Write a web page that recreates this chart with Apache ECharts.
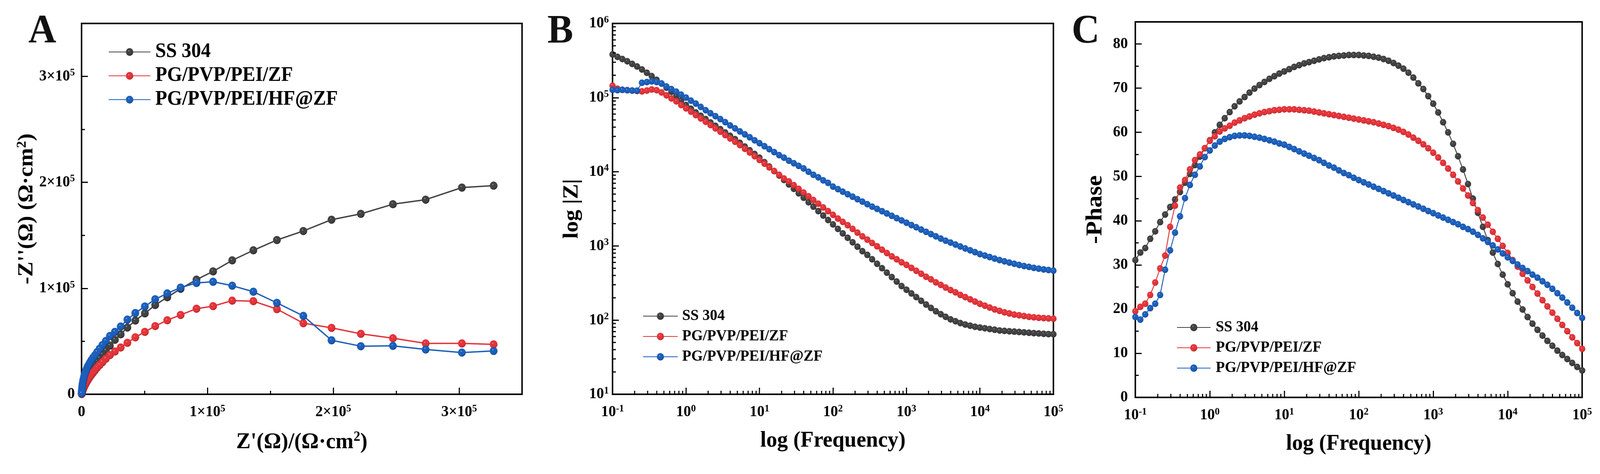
<!DOCTYPE html>
<html>
<head>
<meta charset="utf-8">
<title>EIS</title>
<script src="https://cdn.jsdelivr.net/npm/echarts@6.0.0/dist/echarts.min.js"></script>
<style>
  html, body { margin: 0; padding: 0; background: #fff; overflow: hidden; }
  #chart { width: 4297px; height: 1213px; transform-origin: 0 0; }
</style>
</head>
<body>
<div id="chart"></div>
<script>
const FONT = 'Liberation Serif';
const names = ['SS 304', 'PG/PVP/PEI/ZF', 'PG/PVP/PEI/HF@ZF'];
const colors = ['#424242', '#e3343a', '#1c5fbb'];
const darks = ['#1e1e1e', '#9e1a1e', '#0c3878'];

// A: Nyquist, Z' shared by the three samples (ohm.cm2)
const zReal = [327400, 302200, 273400, 247400, 221900, 198600, 176200, 155200, 136500, 119700,
  104500, 91300, 78700, 68100, 58500, 50300, 42700, 36400, 31100, 26500,
  22500, 19300, 16600, 14300, 12300, 10600, 9100, 7800, 6700, 5700,
  4900, 4200, 3600, 3100, 2600, 2200, 1900, 1600, 1300, 1100,
  900, 750, 600, 500, 400, 300, 230, 170, 120, 80];
const zImagSS = [196900, 195100, 183700, 179400, 170300, 164800, 154100, 145600, 135900, 126400,
  116000, 108200, 99600, 91600, 84200, 76400, 69600, 63000, 56600, 51400,
  45900, 41300, 37500, 34000, 30800, 28100, 25600, 23200, 21200, 19300,
  17600, 16000, 14600, 13300, 12100, 11000, 9900, 8900, 7900, 7000,
  6100, 5300, 4500, 3800, 3100, 2500, 1900, 1400, 1000, 600];
const zImagZF = [47100, 48000, 48000, 52900, 57100, 62700, 67100, 80400, 87900, 88400,
  83200, 80800, 74900, 69900, 64400, 58900, 53800, 48600, 44200, 40400,
  37000, 33500, 30300, 27500, 25000, 22500, 20300, 18300, 16500, 14800,
  13300, 11900, 10700, 9600, 8500, 7500, 6600, 5800, 5000, 4300,
  3600, 3000, 2500, 2000, 1600, 1200, 900, 600, 400, 200];
const zImagHF = [40900, 39400, 42300, 45700, 45400, 51000, 74000, 86300, 96800, 102500,
  106200, 105100, 100700, 95200, 89700, 82900, 76700, 70500, 64000, 58900,
  55000, 50300, 46500, 43000, 39800, 36800, 34500, 32200, 30000, 28000,
  26200, 24400, 22600, 21000, 19300, 17700, 16200, 14700, 13200, 11800,
  10400, 9000, 7700, 6500, 5300, 4200, 3200, 2300, 1500, 800];

// B, C: Bode, log10 of frequency (Hz)
const logFreq = [-1.000, -0.933, -0.867, -0.800, -0.733, -0.667, -0.600, -0.533, -0.467, -0.400, -0.333, -0.267, -0.200, -0.133, -0.067,
  0.000, 0.067, 0.133, 0.200, 0.267, 0.333, 0.400, 0.467, 0.533, 0.600, 0.667, 0.733, 0.800, 0.867, 0.933,
  1.000, 1.067, 1.133, 1.200, 1.267, 1.333, 1.400, 1.467, 1.533, 1.600, 1.667, 1.733, 1.800, 1.867, 1.933,
  2.000, 2.067, 2.133, 2.200, 2.267, 2.333, 2.400, 2.467, 2.533, 2.600, 2.667, 2.733, 2.800, 2.867, 2.933,
  3.000, 3.067, 3.133, 3.200, 3.267, 3.333, 3.400, 3.467, 3.533, 3.600, 3.667, 3.733, 3.800, 3.867, 3.933,
  4.000, 4.067, 4.133, 4.200, 4.267, 4.333, 4.400, 4.467, 4.533, 4.600, 4.667, 4.733, 4.800, 4.867, 4.933,
  5.000];

// log10 |Z|
const logZSS = [5.583, 5.55, 5.52, 5.49, 5.455, 5.42, 5.38, 5.335, 5.29, 5.24, 5.19, 5.135, 5.08, 5.02, 4.96,
  4.90, 4.85, 4.80, 4.755, 4.71, 4.665, 4.62, 4.575, 4.53, 4.485, 4.44, 4.39, 4.34, 4.29, 4.24,
  4.19, 4.13, 4.07, 4.01, 3.95, 3.89, 3.83, 3.77, 3.71, 3.65, 3.59, 3.53, 3.47, 3.41, 3.35,
  3.29, 3.23, 3.17, 3.11, 3.05, 2.99, 2.93, 2.88, 2.82, 2.76, 2.70, 2.64, 2.58, 2.52, 2.46,
  2.41, 2.36, 2.31, 2.26, 2.21, 2.165, 2.12, 2.08, 2.045, 2.01, 1.985, 1.96, 1.94, 1.925, 1.91,
  1.90, 1.89, 1.88, 1.87, 1.86, 1.855, 1.85, 1.845, 1.84, 1.835, 1.83, 1.825, 1.82, 1.815, 1.812,
  1.81];
const logZZF = [5.16, 5.12, 5.105, 5.10, 5.095, 5.09, 5.085, 5.095, 5.11, 5.10, 5.07, 5.03, 4.99, 4.95, 4.90,
  4.855, 4.81, 4.765, 4.72, 4.675, 4.63, 4.585, 4.54, 4.495, 4.45, 4.405, 4.36, 4.31, 4.26, 4.21,
  4.16, 4.11, 4.06, 4.01, 3.96, 3.91, 3.87, 3.82, 3.77, 3.72, 3.67, 3.62, 3.57, 3.52, 3.47,
  3.42, 3.37, 3.325, 3.28, 3.23, 3.18, 3.13, 3.085, 3.04, 2.995, 2.95, 2.905, 2.86, 2.82, 2.78,
  2.745, 2.705, 2.665, 2.625, 2.585, 2.55, 2.51, 2.475, 2.44, 2.405, 2.375, 2.34, 2.31, 2.28, 2.25,
  2.22, 2.195, 2.17, 2.145, 2.125, 2.105, 2.09, 2.075, 2.065, 2.055, 2.045, 2.038, 2.032, 2.027, 2.023,
  2.02];
const logZHF = [5.104, 5.10, 5.105, 5.10, 5.095, 5.094, 5.20, 5.21, 5.219, 5.21, 5.19, 5.15, 5.115, 5.08, 5.04,
  5.00, 4.96, 4.92, 4.875, 4.83, 4.79, 4.75, 4.71, 4.67, 4.625, 4.585, 4.545, 4.505, 4.465, 4.425,
  4.385, 4.345, 4.305, 4.265, 4.225, 4.19, 4.15, 4.115, 4.08, 4.045, 4.0, 3.96, 3.925, 3.885, 3.85,
  3.80, 3.766, 3.732, 3.698, 3.664, 3.63, 3.597, 3.563, 3.53, 3.50, 3.469, 3.438, 3.407, 3.375, 3.344,
  3.313, 3.282, 3.252, 3.221, 3.19, 3.16, 3.13, 3.10, 3.07, 3.045, 3.019, 2.993, 2.967, 2.942, 2.916,
  2.89, 2.87, 2.85, 2.83, 2.81, 2.793, 2.776, 2.76, 2.744, 2.73, 2.717, 2.705, 2.694, 2.684, 2.675,
  2.667];

// -phase (deg)
const phaseSS = [31.1, 32.8, 33.8, 35.9, 37.6, 39.7, 41.4, 43.1, 44.8, 46.5, 48.6, 50.6, 52.6, 54.5, 56.4,
  58.2, 60.0, 61.7, 63.2, 64.6, 65.9, 67.0, 68.0, 69.0, 69.9, 70.7, 71.4, 72.1, 72.7, 73.3,
  73.8, 74.3, 74.8, 75.2, 75.6, 75.9, 76.2, 76.5, 76.8, 77.0, 77.2, 77.3, 77.4, 77.5, 77.5,
  77.5, 77.4, 77.3, 77.1, 76.9, 76.6, 76.2, 75.7, 75.1, 74.4, 73.5, 72.4, 71.1, 69.8, 68.2,
  66.5, 64.5, 62.3, 60.0, 57.4, 54.6, 51.6, 48.3, 45.0, 41.8, 38.6, 35.6, 32.8, 30.2, 27.8,
  25.6, 23.6, 21.7, 19.9, 18.2, 16.7, 15.3, 14.0, 12.8, 11.7, 10.6, 9.6, 8.7, 7.8, 6.9,
  6.1];
const phaseZF = [19.5, 20.5, 21.2, 23.2, 26.0, 29.2, 32.1, 38.6, 43.4, 47.5, 49.2, 51.6, 53.7, 55.0, 56.4,
  58.1, 59.1, 60.2, 60.9, 61.5, 62.2, 62.7, 63.2, 63.6, 64.0, 64.3, 64.6, 64.8, 65.0, 65.1,
  65.2, 65.2, 65.2, 65.1, 65.0, 64.9, 64.7, 64.5, 64.3, 64.1, 63.9, 63.7, 63.5, 63.3, 63.1,
  62.9, 62.7, 62.5, 62.3, 62.0, 61.7, 61.4, 61.0, 60.6, 60.1, 59.5, 58.8, 58.1, 57.3, 56.4,
  55.4, 54.3, 53.1, 51.8, 50.4, 48.9, 47.3, 45.7, 44.0, 42.4, 40.7, 39.1, 37.5, 35.9, 34.3,
  32.7, 31.1, 29.6, 28.0, 26.5, 25.0, 23.5, 22.0, 20.6, 19.2, 17.8, 16.4, 15.0, 13.6, 12.3,
  11.0];
const phaseHF = [18.2, 17.6, 18.8, 20.2, 21.2, 23.2, 28.9, 33.3, 37.3, 41.0, 45.1, 48.1, 50.4, 52.3, 54.4,
  55.9, 57.0, 57.9, 58.5, 58.9, 59.2, 59.3, 59.3, 59.2, 59.0, 58.8, 58.5, 58.2, 57.9, 57.5,
  57.2, 56.7, 56.2, 55.7, 55.2, 54.7, 54.2, 53.7, 53.1, 52.5, 52.0, 51.4, 50.8, 50.3, 49.7,
  49.2, 48.7, 48.2, 47.7, 47.2, 46.7, 46.2, 45.7, 45.2, 44.7, 44.2, 43.7, 43.2, 42.7, 42.2,
  41.7, 41.2, 40.7, 40.2, 39.7, 39.2, 38.6, 38.1, 37.5, 36.8, 36.0, 35.2, 34.4, 33.5, 32.6,
  31.7, 30.9, 30.1, 29.3, 28.6, 27.8, 27.1, 26.3, 25.5, 24.6, 23.6, 22.6, 21.5, 20.3, 19.1,
  18.0];

// minor tick offsets inside one decade (log10 2..9)
const decadeMinor = [0.301, 0.477, 0.602, 0.699, 0.778, 0.845, 0.903, 0.954];

// the viewport can come out narrower than 4297, so stretch the figure onto it
const el = document.getElementById('chart');
const sx = Math.min(window.innerWidth / 4297, 1);
const sy = Math.min(window.innerHeight / 1213, 1);
el.style.transform = 'scale(' + sx + ',' + sy + ')';

const chart = echarts.init(el, null, { renderer: 'canvas' });

function ball(i) {
  return {
    type: 'radial', x: 0.4, y: 0.36, r: 0.68,
    colorStops: [
      { offset: 0, color: '#f4f4f4' },
      { offset: 0.13, color: colors[i] },
      { offset: 0.7, color: colors[i] },
      { offset: 1, color: darks[i] }
    ]
  };
}

const supRich = {
  b: { fontFamily: FONT, fontWeight: 'bold', fontSize: 40, color: '#000', lineHeight: 44 },
  s: { fontFamily: FONT, fontWeight: 'bold', fontSize: 26, color: '#000', lineHeight: 26, verticalAlign: 'top' }
};
const powLabel = v => '{b|10}{s|' + Math.round(v) + '}';
const sciLabel = v => v === 0 ? '{b|0}' : '{b|' + Math.round(v / 1e5) + '×10}{s|5}';
const labelBase = { color: '#000', fontFamily: FONT, fontWeight: 'bold', fontSize: 40, rich: supRich };

function axis(extra) {
  const base = {
    type: 'value',
    axisLine: { show: true, onZero: false, lineStyle: { color: '#000', width: 4 } },
    axisTick: { show: true, inside: true, length: 17, lineStyle: { color: '#000', width: 3 } },
    splitLine: { show: false },
    nameLocation: 'middle',
    nameTextStyle: { fontFamily: FONT, fontWeight: 'bold', fontSize: 58, color: '#000' }
  };
  const out = Object.assign(base, extra);
  out.axisLabel = Object.assign({}, labelBase, extra.axisLabel || {});
  return out;
}

const minorTick = { show: true, splitNumber: 2, length: 9, lineStyle: { color: '#000', width: 3 } };
const titleRich = {
  t: { fontFamily: FONT, fontWeight: 'bold', fontSize: 58, color: '#000', lineHeight: 62 },
  u: { fontFamily: FONT, fontWeight: 'bold', fontSize: 36, color: '#000', lineHeight: 36, verticalAlign: 'top' }
};

const grids = [
  { left: 219, top: 60, width: 1183, height: 949 },
  { left: 1645, top: 60, width: 1184, height: 949 },
  { left: 3049, top: 56, width: 1200, height: 961 }
].map(g => Object.assign(g, { show: true, borderColor: '#000', borderWidth: 4, backgroundColor: 'transparent' }));

const xAxes = [
  axis({ gridIndex: 0, min: 0, max: 350000, interval: 100000, minorTick,
    name: "{t|Z'(Ω)/(Ω·cm}{u|2}{t|)}", nameGap: 92,
    nameTextStyle: { rich: titleRich },
    axisLabel: { formatter: sciLabel, margin: 24, showMaxLabel: false } }),
  axis({ gridIndex: 1, min: -1, max: 5, interval: 1, name: 'log (Frequency)', nameGap: 90,
    axisLabel: { formatter: powLabel, margin: 24 } }),
  axis({ gridIndex: 2, min: -1, max: 5, interval: 1, name: 'log (Frequency)', nameGap: 90,
    axisLabel: { formatter: powLabel, margin: 24 } })
];
const yAxes = [
  axis({ gridIndex: 0, min: 0, max: 350000, interval: 100000, minorTick,
    name: "{t|-Z''(Ω) (Ω·cm}{u|2}{t|)}", nameGap: 112,
    nameTextStyle: { rich: titleRich },
    axisLabel: { formatter: sciLabel, margin: 18, showMaxLabel: false } }),
  axis({ gridIndex: 1, min: 1, max: 6, interval: 1, name: 'log |Z|', nameGap: 80,
    axisLabel: { formatter: powLabel, margin: 10 } }),
  axis({ gridIndex: 2, min: 0, max: 85, interval: 10, minorTick, name: '-Phase', nameGap: 76,
    nameTextStyle: { fontFamily: FONT, fontWeight: 'bold', fontSize: 62, color: '#000' },
    axisLabel: { margin: 20, showMaxLabel: false } })
];

function line(i, gi, data, size, width) {
  return {
    type: 'line', name: names[i], xAxisIndex: gi, yAxisIndex: gi,
    data, symbol: 'circle', symbolSize: size, showSymbol: true,
    lineStyle: { color: colors[i], width },
    itemStyle: { color: ball(i), borderWidth: 0 },
    emphasis: { disabled: true }, z: 3 + i
  };
}

function ticks(gi, data, vertical) {
  return {
    type: 'custom', xAxisIndex: gi, yAxisIndex: gi, silent: true, z: 20, data,
    renderItem: (p, api) => {
      const c = api.coord([api.value(0), api.value(1)]);
      const shape = vertical
        ? { x1: c[0], y1: c[1], x2: c[0], y2: c[1] - 9 }
        : { x1: c[0], y1: c[1], x2: c[0] + 9, y2: c[1] };
      return { type: 'line', shape, style: { stroke: '#000', lineWidth: 3 } };
    }
  };
}

// minor tick positions on the log axes
const minorX = [], minorY = [];
for (let d = -1; d < 5; d++) decadeMinor.forEach(m => minorX.push(d + m));
for (let d = 1; d < 6; d++) decadeMinor.forEach(m => minorY.push(d + m));

const nyq = [zImagSS, zImagZF, zImagHF];
const bodeZ = [logZSS, logZZF, logZHF];
const bodeP = [phaseSS, phaseZF, phaseHF];
const series = [];
nyq.forEach((ys, i) => series.push(line(i, 0, zReal.map((x, k) => [x, ys[k]]), 21, 3.5)));
bodeZ.forEach((ys, i) => series.push(line(i, 1, logFreq.map((f, k) => [f, ys[k]]), 17, 2.5)));
bodeP.forEach((ys, i) => series.push(line(i, 2, logFreq.map((f, k) => [f, ys[k]]), 17, 2.5)));
series.push(ticks(1, minorX.map(v => [v, 1]), true));
series.push(ticks(1, minorY.map(v => [-1, v]), false));
series.push(ticks(2, minorX.map(v => [v, 0]), true));

function legend(left, top, itemWidth, itemHeight, fontSize, gap, pad) {
  return {
    orient: 'vertical', left, top, itemWidth, itemHeight, itemGap: gap,
    data: names, selectedMode: false,
    textStyle: { fontFamily: FONT, fontWeight: 'bold', fontSize, color: '#000', lineHeight: fontSize, padding: [0, 0, 0, pad] }
  };
}

function panelLabel(text, x) {
  return {
    type: 'text', left: x, top: 30,
    style: { text, fill: '#111', fontFamily: FONT, fontWeight: 'bold', fontSize: 104 }
  };
}

chart.setOption({
  animation: false,
  backgroundColor: '#fff',
  grid: grids,
  xAxis: xAxes,
  yAxis: yAxes,
  legend: [
    legend(286, 102, 112, 25, 52, 9, 8),
    legend(1721, 784, 93, 24, 40, 12, 7),
    legend(3155, 813, 90, 24, 40, 12, 9)
  ],
  graphic: [panelLabel('A', 76), panelLabel('B', 1470), panelLabel('C', 2878)],
  series
});
</script>
</body>
</html>
